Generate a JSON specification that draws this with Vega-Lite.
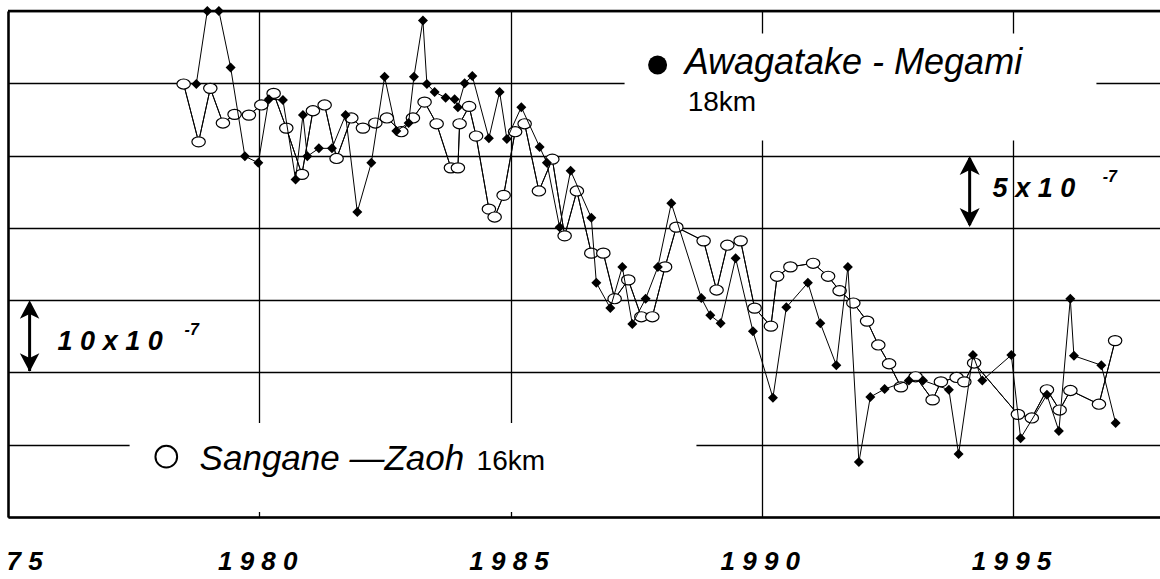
{
  "$schema": "https://vega.github.io/schema/vega-lite/v6.json",
  "width": 1152,
  "height": 506,
  "autosize": {"type": "none"},
  "padding": {"left": 8, "top": 11, "right": 0, "bottom": 62},
  "background": "white",
  "config": {"view": {"stroke": null}},
  "resolve": {"axis": {"x": "independent", "y": "independent"}},
  "datasets": {
    "awa": [
      {"t":1978.747,"v":5.99},{"t":1978.966,"v":7.00},{"t":1979.197,"v":7.00},{"t":1979.430,"v":6.22},{"t":1979.714,"v":4.99},{"t":1979.981,"v":4.90},{"t":1980.192,"v":5.78},{"t":1980.471,"v":5.77},{"t":1980.723,"v":4.67},{"t":1980.869,"v":5.56},{"t":1980.956,"v":4.99},{"t":1981.187,"v":5.10},{"t":1981.446,"v":5.10},{"t":1981.718,"v":5.56},{"t":1981.951,"v":4.22},{"t":1982.230,"v":4.90},{"t":1982.494,"v":6.09},{"t":1982.727,"v":5.34},{"t":1982.972,"v":5.45},{"t":1983.078,"v":6.09},{"t":1983.257,"v":6.87},{"t":1983.336,"v":5.99},{"t":1983.490,"v":5.88},{"t":1983.709,"v":5.80},{"t":1983.888,"v":5.78},{"t":1983.953,"v":5.67},{"t":1984.087,"v":6.00},{"t":1984.240,"v":6.10},{"t":1984.570,"v":5.24},{"t":1984.783,"v":5.88},{"t":1984.928,"v":5.23},{"t":1985.215,"v":5.67},{"t":1985.579,"v":5.12},{"t":1985.724,"v":4.90},{"t":1985.977,"v":4.01},{"t":1986.196,"v":4.79},{"t":1986.608,"v":4.14},{"t":1986.708,"v":3.24},{"t":1986.986,"v":2.89},{"t":1987.225,"v":3.46},{"t":1987.424,"v":2.67},{"t":1987.689,"v":3.02},{"t":1987.933,"v":3.46},{"t":1988.200,"v":4.34},{"t":1988.797,"v":3.03},{"t":1988.976,"v":2.79},{"t":1989.181,"v":2.68},{"t":1989.480,"v":3.58},{"t":1989.824,"v":2.57},{"t":1990.222,"v":1.65},{"t":1990.489,"v":2.90},{"t":1990.918,"v":3.24},{"t":1991.165,"v":2.68},{"t":1991.484,"v":2.10},{"t":1991.714,"v":3.46},{"t":1991.933,"v":0.76},{"t":1992.160,"v":1.66},{"t":1992.445,"v":1.77},{"t":1992.928,"v":1.89},{"t":1993.207,"v":1.89},{"t":1993.724,"v":1.76},{"t":1993.917,"v":0.87},{"t":1994.202,"v":2.24},{"t":1994.389,"v":1.89},{"t":1994.966,"v":2.24},{"t":1995.151,"v":1.09},{"t":1995.675,"v":1.69},{"t":1995.913,"v":1.19},{"t":1996.140,"v":3.02},{"t":1996.212,"v":2.23},{"t":1996.757,"v":2.10},{"t":1997.042,"v":1.30}
    ],
    "san": [
      {"t":1978.495,"v":5.99},{"t":1978.793,"v":5.19},{"t":1979.026,"v":5.93},{"t":1979.277,"v":5.45},{"t":1979.509,"v":5.57},{"t":1979.794,"v":5.56},{"t":1980.041,"v":5.70},{"t":1980.286,"v":5.86},{"t":1980.538,"v":5.38},{"t":1980.849,"v":4.74},{"t":1981.068,"v":5.62},{"t":1981.301,"v":5.70},{"t":1981.539,"v":4.96},{"t":1981.832,"v":5.52},{"t":1982.063,"v":5.38},{"t":1982.310,"v":5.45},{"t":1982.540,"v":5.52},{"t":1982.827,"v":5.33},{"t":1983.058,"v":5.52},{"t":1983.290,"v":5.74},{"t":1983.530,"v":5.44},{"t":1983.814,"v":4.83},{"t":1983.953,"v":4.83},{"t":1983.987,"v":5.44},{"t":1984.176,"v":5.68},{"t":1984.315,"v":5.27},{"t":1984.570,"v":4.26},{"t":1984.684,"v":4.15},{"t":1984.863,"v":4.45},{"t":1985.092,"v":5.33},{"t":1985.281,"v":5.44},{"t":1985.565,"v":4.51},{"t":1985.832,"v":4.95},{"t":1986.077,"v":3.89},{"t":1986.321,"v":4.51},{"t":1986.608,"v":3.65},{"t":1986.847,"v":3.65},{"t":1987.072,"v":3.02},{"t":1987.344,"v":3.28},{"t":1987.603,"v":2.77},{"t":1987.822,"v":2.77},{"t":1988.076,"v":3.46},{"t":1988.300,"v":4.01},{"t":1988.843,"v":3.82},{"t":1989.101,"v":3.14},{"t":1989.315,"v":3.76},{"t":1989.579,"v":3.82},{"t":1989.858,"v":2.89},{"t":1990.182,"v":2.64},{"t":1990.306,"v":3.33},{"t":1990.570,"v":3.46},{"t":1991.022,"v":3.51},{"t":1991.320,"v":3.33},{"t":1991.549,"v":3.13},{"t":1991.822,"v":2.96},{"t":1992.096,"v":2.71},{"t":1992.319,"v":2.38},{"t":1992.534,"v":2.12},{"t":1992.769,"v":1.80},{"t":1993.062,"v":1.94},{"t":1993.400,"v":1.62},{"t":1993.565,"v":1.87},{"t":1993.878,"v":1.93},{"t":1994.031,"v":1.87},{"t":1994.226,"v":2.13},{"t":1995.097,"v":1.42},{"t":1995.374,"v":1.37},{"t":1995.675,"v":1.76},{"t":1995.928,"v":1.48},{"t":1996.142,"v":1.75},{"t":1996.710,"v":1.56},{"t":1997.032,"v":2.44}
    ]
  },
  "layer": [
    {
      "data": {"name": "san"},
      "mark": {"type": "line", "color": "black", "strokeWidth": 1},
      "encoding": {
        "x": {"field": "t", "type": "quantitative",
          "scale": {"domain": [1975, 1997.925], "nice": false, "zero": false},
          "axis": {
            "values": [1975, 1980, 1985, 1990, 1995], "orient": "bottom", "title": null,
            "grid": true, "gridColor": "black", "gridWidth": 1.3, "gridOpacity": 1,
            "domain": true, "domainColor": "black", "domainWidth": 2.5,
            "ticks": false, "tickSize": 0,
            "labelExpr": "datum.value == 1975 ? '7 5' : datum.value == 1980 ? '1 9 8 0' : datum.value == 1985 ? '1 9 8 5' : datum.value == 1990 ? '1 9 9 0' : '1 9 9 5'",
            "labelFont": "Liberation Sans", "labelFontSize": 26, "labelFontStyle": "italic", "labelFontWeight": "bold", "labelColor": "black",
            "labelBaseline": "alphabetic", "labelPadding": 52, "labelFlush": true, "labelOverlap": false, "labelOffset": -2
          }},
        "y": {"field": "v", "type": "quantitative",
          "scale": {"domain": [0, 7], "nice": false, "zero": false},
          "axis": {
            "values": [0, 1, 2, 3, 4, 5, 6, 7], "orient": "left", "title": null,
            "labels": false, "ticks": false, "tickSize": 0,
            "grid": true, "gridColor": "black", "gridWidth": 1.3, "gridOpacity": 1,
            "domain": true, "domainColor": "black", "domainWidth": 2.5
          }}
      }
    },
    {
      "data": {"values": [{}]},
      "mark": {"type": "rect", "color": "white", "opacity": 1},
      "encoding": {
        "x": {"datum": 1987.27, "type": "quantitative", "axis": null},
        "x2": {"datum": 1996.66},
        "y": {"datum": 5.21, "type": "quantitative", "axis": null},
        "y2": {"datum": 6.69}
      }
    },
    {
      "data": {"values": [{}]},
      "mark": {"type": "rect", "color": "white", "opacity": 1},
      "encoding": {
        "x": {"datum": 1977.42, "type": "quantitative", "axis": null},
        "x2": {"datum": 1988.70},
        "y": {"datum": 0.07, "type": "quantitative", "axis": null},
        "y2": {"datum": 1.30}
      }
    },
    {
      "data": {"name": "san"},
      "mark": {"type": "line", "color": "black", "strokeWidth": 1},
      "encoding": {
        "x": {"field": "t", "type": "quantitative", "axis": null},
        "y": {"field": "v", "type": "quantitative", "axis": null}
      }
    },
    {
      "data": {"name": "san"},
      "mark": {"type": "point", "shape": "M-1,0A1,0.75,0,1,0,1,0A1,0.75,0,1,0,-1,0Z", "size": 180, "filled": true, "fill": "white", "stroke": "black", "strokeWidth": 1.2, "opacity": 1},
      "encoding": {
        "x": {"field": "t", "type": "quantitative", "axis": null},
        "y": {"field": "v", "type": "quantitative", "axis": null}
      }
    },
    {
      "data": {"name": "awa"},
      "mark": {"type": "line", "color": "black", "strokeWidth": 1},
      "encoding": {
        "x": {"field": "t", "type": "quantitative", "axis": null},
        "y": {"field": "v", "type": "quantitative", "axis": null}
      }
    },
    {
      "data": {"name": "awa"},
      "mark": {"type": "point", "shape": "diamond", "size": 100, "filled": true, "color": "black", "opacity": 1},
      "encoding": {
        "x": {"field": "t", "type": "quantitative", "axis": null},
        "y": {"field": "v", "type": "quantitative", "axis": null}
      }
    },
    {
      "data": {"values": [{}]},
      "mark": {"type": "rule", "color": "black", "strokeWidth": 2.5},
      "encoding": {"y": {"datum": 7, "type": "quantitative", "axis": null}}
    },
    {
      "data": {"values": [{}]},
      "mark": {"type": "point", "shape": "circle", "size": 360, "filled": true, "color": "black", "opacity": 1},
      "encoding": {"x": {"datum": 1987.927, "type": "quantitative", "axis": null}, "y": {"datum": 6.252, "type": "quantitative", "axis": null}}
    },
    {
      "data": {"values": [{}]},
      "mark": {"type": "text", "text": "Awagatake - Megami", "font": "Liberation Sans", "fontSize": 36, "fontStyle": "italic", "align": "left", "baseline": "alphabetic", "color": "black"},
      "encoding": {"x": {"datum": 1988.465, "type": "quantitative", "axis": null}, "y": {"datum": 6.127, "type": "quantitative", "axis": null}}
    },
    {
      "data": {"values": [{}]},
      "mark": {"type": "text", "text": "18km", "font": "Liberation Sans", "fontSize": 28, "align": "left", "baseline": "alphabetic", "color": "black"},
      "encoding": {"x": {"datum": 1988.525, "type": "quantitative", "axis": null}, "y": {"datum": 5.615, "type": "quantitative", "axis": null}}
    },
    {
      "data": {"values": [{}]},
      "mark": {"type": "point", "shape": "circle", "size": 470, "filled": false, "stroke": "black", "strokeWidth": 2, "opacity": 1},
      "encoding": {"x": {"datum": 1978.150, "type": "quantitative", "axis": null}, "y": {"datum": 0.834, "type": "quantitative", "axis": null}}
    },
    {
      "data": {"values": [{}]},
      "mark": {"type": "text", "text": "Sangane —Zaoh", "font": "Liberation Sans", "fontSize": 35, "fontStyle": "italic", "align": "left", "baseline": "alphabetic", "color": "black"},
      "encoding": {"x": {"datum": 1978.813, "type": "quantitative", "axis": null}, "y": {"datum": 0.650, "type": "quantitative", "axis": null}}
    },
    {
      "data": {"values": [{}]},
      "mark": {"type": "text", "text": "16km", "font": "Liberation Sans", "fontSize": 28, "align": "left", "baseline": "alphabetic", "color": "black"},
      "encoding": {"x": {"datum": 1984.325, "type": "quantitative", "axis": null}, "y": {"datum": 0.650, "type": "quantitative", "axis": null}}
    },
    {
      "data": {"values": [{}]},
      "mark": {"type": "rule", "color": "black", "strokeWidth": 3},
      "encoding": {"x": {"datum": 1994.137, "type": "quantitative", "axis": null}, "y": {"datum": 4.965, "type": "quantitative", "axis": null}, "y2": {"datum": 4.039}}
    },
    {
      "data": {"values": [{}]},
      "mark": {"type": "point", "shape": "M0,-1L1,0.9L0,0.4L-1,0.9Z", "size": 400, "filled": true, "color": "black", "opacity": 1},
      "encoding": {"x": {"datum": 1994.137, "type": "quantitative", "axis": null}, "y": {"datum": 4.855, "type": "quantitative", "axis": null}}
    },
    {
      "data": {"values": [{}]},
      "mark": {"type": "point", "shape": "M0,1L1,-0.9L0,-0.4L-1,-0.9Z", "size": 400, "filled": true, "color": "black", "opacity": 1},
      "encoding": {"x": {"datum": 1994.137, "type": "quantitative", "axis": null}, "y": {"datum": 4.149, "type": "quantitative", "axis": null}}
    },
    {
      "data": {"values": [{}]},
      "mark": {"type": "rule", "color": "black", "strokeWidth": 3},
      "encoding": {"x": {"datum": 1975.43, "type": "quantitative", "axis": null}, "y": {"datum": 2.96, "type": "quantitative", "axis": null}, "y2": {"datum": 2.02}}
    },
    {
      "data": {"values": [{}]},
      "mark": {"type": "point", "shape": "M0,-1L1,0.9L0,0.4L-1,0.9Z", "size": 380, "filled": true, "color": "black", "opacity": 1},
      "encoding": {"x": {"datum": 1975.43, "type": "quantitative", "axis": null}, "y": {"datum": 2.863, "type": "quantitative", "axis": null}}
    },
    {
      "data": {"values": [{}]},
      "mark": {"type": "point", "shape": "M0,1L1,-0.9L0,-0.4L-1,-0.9Z", "size": 380, "filled": true, "color": "black", "opacity": 1},
      "encoding": {"x": {"datum": 1975.43, "type": "quantitative", "axis": null}, "y": {"datum": 2.144, "type": "quantitative", "axis": null}}
    },
    {
      "data": {"values": [{}]},
      "mark": {"type": "text", "text": "5 x  1 0", "font": "Liberation Sans", "fontSize": 27, "fontStyle": "italic", "fontWeight": "bold", "align": "left", "baseline": "alphabetic", "color": "black"},
      "encoding": {"x": {"datum": 1994.594, "type": "quantitative", "axis": null}, "y": {"datum": 4.426, "type": "quantitative", "axis": null}}
    },
    {
      "data": {"values": [{}]},
      "mark": {"type": "text", "text": "-7", "font": "Liberation Sans", "fontSize": 16, "fontStyle": "italic", "fontWeight": "bold", "align": "left", "baseline": "alphabetic", "color": "black"},
      "encoding": {"x": {"datum": 1996.784, "type": "quantitative", "axis": null}, "y": {"datum": 4.633, "type": "quantitative", "axis": null}}
    },
    {
      "data": {"values": [{}]},
      "mark": {"type": "text", "text": "1 0 x  1 0", "font": "Liberation Sans", "fontSize": 27, "fontStyle": "italic", "fontWeight": "bold", "align": "left", "baseline": "alphabetic", "color": "black"},
      "encoding": {"x": {"datum": 1975.987, "type": "quantitative", "axis": null}, "y": {"datum": 2.31, "type": "quantitative", "axis": null}}
    },
    {
      "data": {"values": [{}]},
      "mark": {"type": "text", "text": "-7", "font": "Liberation Sans", "fontSize": 16, "fontStyle": "italic", "fontWeight": "bold", "align": "left", "baseline": "alphabetic", "color": "black"},
      "encoding": {"x": {"datum": 1978.514, "type": "quantitative", "axis": null}, "y": {"datum": 2.517, "type": "quantitative", "axis": null}}
    }
  ]
}
